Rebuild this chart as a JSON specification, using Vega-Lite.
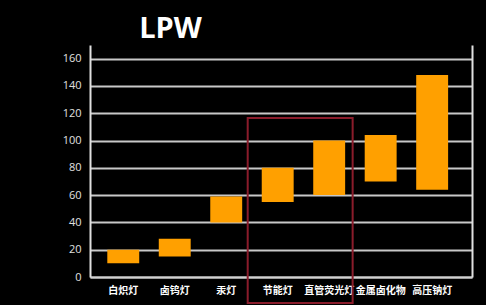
{
  "$schema": "https://vega.github.io/schema/vega-lite/v6.json",
  "width": 382,
  "height": 232,
  "autosize": {"type": "none"},
  "padding": {"left": 90, "top": 45, "right": 14, "bottom": 28},
  "background": "#000000",
  "title": {
    "text": "LPW",
    "anchor": "start",
    "dx": 77,
    "offset": 1,
    "font": "Open Sans",
    "fontSize": 29,
    "fontWeight": "bold",
    "color": "#ffffff"
  },
  "config": {
    "view": {"stroke": null},
    "axis": {"labelFont": "Noto Sans CJK SC"}
  },
  "resolve": {"axis": {"y": "independent"}},
  "layer": [
    {
      "data": {
        "values": [
          {"lamp": "白炽灯", "low": 10, "high": 20},
          {"lamp": "卤钨灯", "low": 15, "high": 28},
          {"lamp": "汞灯", "low": 40, "high": 59},
          {"lamp": "节能灯", "low": 55, "high": 80},
          {"lamp": "直管荧光灯", "low": 60, "high": 100},
          {"lamp": "金属卤化物", "low": 70, "high": 104},
          {"lamp": "高压钠灯", "low": 64, "high": 148}
        ]
      },
      "mark": {"type": "bar", "color": "#FFA000"},
      "encoding": {
        "x": {
          "field": "lamp",
          "type": "nominal",
          "sort": null,
          "scale": {"paddingInner": 0.38, "paddingOuter": 0.4, "align": 0.42},
          "axis": {
            "title": null,
            "labelAngle": 0,
            "labelColor": "#ffffff",
            "labelFontSize": 10,
            "labelFontWeight": "bold",
            "labelPadding": 8,
            "ticks": false,
            "domainColor": "#d0d0d0",
            "domainWidth": 2
          }
        },
        "y": {
          "field": "low",
          "type": "quantitative",
          "scale": {"domain": [0, 170], "nice": false},
          "axis": {
            "title": null,
            "values": [0, 20, 40, 60, 80, 100, 120, 140, 160],
            "labelColor": "#e0e0e0",
            "labelFont": "Open Sans",
            "labelFontSize": 11,
            "labelPadding": 9,
            "ticks": false,
            "grid": true,
            "gridColor": "#c8c8c8",
            "gridWidth": 2,
            "domainColor": "#e0e0e0",
            "domainWidth": 2
          }
        },
        "y2": {"field": "high"}
      }
    },
    {
      "data": {
        "values": [
          {"from": "节能灯", "to": "直管荧光灯", "top": 116.5, "bottom": -19}
        ]
      },
      "mark": {"type": "rect", "fill": null, "stroke": "#8a1c2b", "strokeWidth": 2, "clip": false},
      "encoding": {
        "x": {"field": "from", "type": "nominal", "sort": null, "bandPosition": -0.44},
        "x2": {"field": "to", "bandPosition": 1.235},
        "y": {
          "field": "top",
          "type": "quantitative",
          "axis": {
            "orient": "right",
            "labels": false,
            "ticks": false,
            "grid": false,
            "title": null,
            "domainColor": "#e0e0e0",
            "domainWidth": 2
          }
        },
        "y2": {"field": "bottom"}
      }
    }
  ]
}
